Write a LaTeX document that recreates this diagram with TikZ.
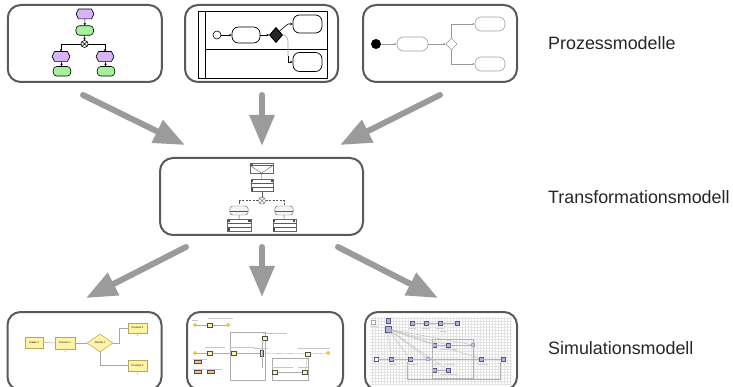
\documentclass[tikz,border=0pt]{standalone}
\usepackage{fontspec}
\setmainfont{Liberation Sans}
\usetikzlibrary{arrows.meta,shapes.geometric,shapes.misc,calc}
\definecolor{framegray}{HTML}{5A5A5A}
\definecolor{arrowgray}{HTML}{9B9B9B}
\definecolor{evpurple}{HTML}{D6B4F6}
\definecolor{fngreen}{HTML}{A6F09C}
\definecolor{arenay}{HTML}{FFF3A6}
\definecolor{arenab}{HTML}{B9A65A}
\definecolor{simblue}{HTML}{8E92D6}
\begin{document}
\begin{tikzpicture}[x=1pt,y=-1pt,
  frame/.style={draw=framegray, line width=2pt, rounded corners=13pt, minimum width=154pt, minimum height=77pt, inner sep=0pt},
  bigarrow/.style={draw=arrowgray, line width=6pt, line cap=round, -{Triangle[length=31pt,width=24pt]}},
  lbl/.style={anchor=west, inner sep=0pt, font=\fontsize{17.9}{20}\selectfont, text=black!85},
  ev/.style={minimum width=17.5pt, minimum height=9.5pt, inner sep=0pt},
  fn/.style={draw=black, line width=0.6pt, fill=fngreen, rounded corners=3.5pt, minimum width=17.5pt, minimum height=9.5pt, inner sep=0pt},
  epc/.style={line width=0.6pt, -{Stealth[length=2.5pt,width=2.5pt]}},
  task/.style={draw=black, line width=0.7pt, rounded corners=6.5pt, fill=white, inner sep=0pt},
  bpmn/.style={line width=0.6pt, -{Stealth[length=2.5pt,width=2.5pt]}},
  act/.style={draw=gray!75, line width=0.6pt, rounded corners=6.5pt, fill=white, inner sep=0pt},
  uml/.style={draw=gray!80, line width=0.6pt, -{Stealth[length=2.5pt,width=2.2pt]}},
  tbox/.style={draw=gray!80!black, line width=0.4pt, fill=gray!8, inner sep=0pt},
  tline/.style={draw=gray!70!black, line width=0.4pt},
  ar/.style={draw=arenab, line width=0.5pt, fill=arenay, inner sep=0pt},
  arl/.style={draw=gray!70, line width=0.5pt},
  tiny/.style={font=\fontsize{2.6}{3}\selectfont, inner sep=0pt},
  sm/.style={draw=gray!60!black, line width=0.3pt, fill=arenay, minimum width=5pt, minimum height=4pt, inner sep=0pt},
  ydot/.style={circle, draw=arenab, line width=0.3pt, fill=yellow!70!orange, minimum size=3.5pt, inner sep=0pt},
  sml/.style={draw=gray!65, line width=0.35pt},
  txb/.style={draw=gray!45, line width=0.7pt},
  bq/.style={draw=simblue!60!black, line width=0.3pt, fill=simblue!70!white, minimum width=4.5pt, minimum height=4.5pt, inner sep=0pt},
  bc/.style={circle, draw=simblue!60!black, line width=0.3pt, fill=simblue!40!white, minimum size=4pt, inner sep=0pt},
  bl/.style={draw=gray!60, line width=0.3pt}
]
\useasboundingbox (0,0) rectangle (733,387);
\fill[white] (0,0) rectangle (733,387);

% ---------- frames ----------
\node[frame] (p1) at (84.75,43.5) {};
\node[frame, minimum width=153pt] (p2) at (261.5,43.5) {};
\node[frame] (p3) at (440,43.5) {};
\node[frame, minimum width=203pt] (tm) at (261.5,196.5) {};
\node[frame, minimum height=78pt] (s1) at (84.5,351) {};
\node[frame, minimum width=156pt, minimum height=78pt] (s2) at (265,351) {};
\node[frame, minimum width=152pt, minimum height=78pt] (s3) at (441,351) {};

% ---------- big arrows ----------
\coordinate (a1s) at (83,95);   \coordinate (a1e) at (185,145);
\coordinate (a2s) at (262,95);  \coordinate (a2e) at (262,146);
\coordinate (a3s) at (440,95);  \coordinate (a3e) at (340,145);
\coordinate (b1s) at (186,247); \coordinate (b1e) at (86,298);
\coordinate (b2s) at (262,247); \coordinate (b2e) at (262,297);
\coordinate (b3s) at (338,247); \coordinate (b3e) at (438,298);
\foreach \s/\e in {a1s/a1e,a2s/a2e,a3s/a3e,b1s/b1e,b2s/b2e,b3s/b3e}
  \draw[bigarrow] (\s) -- (\e);

% ---------- labels ----------
\node[lbl] (l1) at (548,43) {Prozessmodelle};
\node[lbl] (l2) at (548,197) {Transformationsmodell};
\node[lbl] (l3) at (548,348) {Simulationsmodell};

% ---------- EPC (box 1) ----------
\node[ev] (e1) at (85,14) {};
\node[fn] (f1) at (84.7,30.5) {};
\node[circle, draw=black, line width=0.6pt, fill=white, minimum size=7pt, inner sep=0pt] (x1) at (84.5,44) {};
\draw[line width=0.5pt] (x1.north west) -- (x1.south east) (x1.north east) -- (x1.south west);
\node[ev] (e2) at (61,56.5) {};
\node[fn] (f2) at (62,71.3) {};
\node[ev] (e3) at (105,56.5) {};
\node[fn] (f3) at (106,71.3) {};
\foreach \n in {e1,e2,e3}
  \filldraw[fill=evpurple, draw=black, line width=0.6pt, line join=round]
    (\n.west) -- ($(\n.north west)+(2.5,0)$) -- ($(\n.north east)+(-2.5,0)$) -- (\n.east)
    -- ($(\n.south east)+(-2.5,0)$) -- ($(\n.south west)+(2.5,0)$) -- cycle;
\coordinate (xl) at (61,44); \coordinate (xr) at (105,44);
\draw[epc] (e1) -- (f1);
\draw[epc] (f1) -- (x1);
\draw[line width=0.6pt] (xl) -- (x1.west) (x1.east) -- (xr);
\draw[epc] (xl) -- (e2);
\draw[epc] (xr) -- (e3);
\draw[epc] (e2) -- (f2);
\draw[epc] (e3) -- (f3);

% ---------- BPMN (box 2) ----------
\node[draw=black, line width=0.8pt, minimum width=129pt, minimum height=67pt, inner sep=0pt] (pool) at (262.5,44.5) {};
\draw[line width=0.8pt] ($(pool.north west)+(8,0)$) coordinate (ps1) -- ($(pool.south west)+(8,0)$) coordinate (ps2);
\draw[line width=0.8pt] (206,49) coordinate (ln1) -- (pool.east |- ln1);
\node[circle, draw=black, line width=0.6pt, fill=white, minimum size=8pt, inner sep=0pt] (st) at (217,35) {};
\node[task, minimum width=28pt, minimum height=16pt] (ta) at (246,35) {};
\node[diamond, draw=black, line width=1pt, fill=black!85, minimum width=13pt, minimum height=15pt, inner sep=0pt] (gw) at (276,35) {};
\node[task, minimum width=29pt, minimum height=18pt] (tb) at (307.5,24) {};
\node[task, minimum width=29pt, minimum height=19pt] (tc) at (307.5,62) {};
\draw[bpmn] (st) -- (ta);
\draw[bpmn] (ta) -- (gw);
\draw[bpmn] (gw.north east) -- (288,24) -- (tb.west);
\draw[line width=0.6pt, draw=gray!70] (gw.east) to[out=0,in=90] (288,42) -- (288,56);
\draw[bpmn] (288,56) |- (tc.west);

% ---------- UML activity (box 3) ----------
\node[circle, fill=black, minimum size=10pt, inner sep=0pt] (in) at (376,44) {};
\node[act, minimum width=31pt, minimum height=14pt] (ua) at (412.5,44) {};
\node[diamond, draw=gray!75, line width=0.6pt, fill=white, minimum width=11pt, minimum height=12pt, inner sep=0pt] (dm) at (451.5,44) {};
\node[act, minimum width=30pt, minimum height=14pt] (ub) at (490,24) {};
\node[act, minimum width=30pt, minimum height=14pt] (uc) at (490,64) {};
\draw[uml] (in) -- (ua);
\draw[uml] (ua) -- (dm);
\draw[uml] (dm.north) |- (ub.west);
\draw[uml] (dm.south) |- (uc.west);

% ---------- transformation model ----------
\node[tbox, fill=white, minimum width=23pt, minimum height=10pt] (t1) at (261.5,168) {};
\draw[tline] ($(t1.north west)+(0,2.5)$) -- ($(t1.north east)+(0,2.5)$);
\draw[tline] ($(t1.north west)+(0,2.5)$) -- (t1.south) -- ($(t1.north east)+(0,2.5)$);
\fill[gray!70!black] ($(t1.north west)+(1,0.6)$) rectangle ++(2.5,1.3);
\node[tbox, fill=white, minimum width=22.6pt, minimum height=12.4pt] (t2) at (262,185.5) {};
\node[circle, draw=gray!70!black, line width=0.4pt, fill=white, minimum size=7pt, inner sep=0pt] (cx) at (262,200.7) {};
\draw[tline] (cx.north west) -- (cx.south east) (cx.north east) -- (cx.south west);
\node[tbox, rounded corners=3pt, minimum width=18.3pt, minimum height=9pt] (t3) at (239,210.5) {};
\node[tbox, fill=white, minimum width=23.3pt, minimum height=12.4pt] (t4) at (239.3,225.5) {};
\node[tbox, rounded corners=3pt, minimum width=18.3pt, minimum height=9pt] (t5) at (284,210.5) {};
\node[tbox, fill=white, minimum width=23pt, minimum height=12.4pt] (t6) at (284.2,225.5) {};
\foreach \n in {t2,t4,t6}{
  \draw[tline] ($(\n.north west)!0.33!(\n.south west)$) -- ($(\n.north east)!0.33!(\n.south east)$);
  \draw[tline] ($(\n.north west)!0.66!(\n.south west)$) -- ($(\n.north east)!0.66!(\n.south east)$);
  \fill[gray!60!black] ($(\n.north west)+(0.6,0.8)$) rectangle ++(2.2,2.2);
  \fill[gray!60!black] ($(\n.north west)!0.66!(\n.south west)+(0.6,0.8)$) rectangle ++(2.2,2.2);
  \fill[gray!60!black] ($(\n.north east)+(-2.8,0.8)$) rectangle ++(2.2,2.2);
}
\foreach \n in {t3,t5}{
  \draw[tline] ($(\n.west)+(0,1)$) -- ($(\n.east)+(0,1)$);
}
\draw[tline] (t1) -- (t2);
\draw[tline] (t2) -- (cx);
\draw[tline, dashed, dash pattern=on 2pt off 1.5pt] (cx.west) -| (t3.north);
\draw[tline, dashed, dash pattern=on 2pt off 1.5pt] (cx.east) -| (t5.north);
\draw[tline] (t3) -- (t4);
\draw[tline] (t5) -- (t6);

% ---------- Arena model (sim box 1) ----------
\node[ar, minimum width=18pt, minimum height=11pt] (cr) at (34,342.5) {};
\node[tiny] at (cr) {Create 1};
\node[ar, minimum width=20pt, minimum height=12pt] (pa) at (65,343) {};
\node[tiny] at (pa) {Process 1};
\node[diamond, ar, minimum width=26pt, minimum height=18pt] (dc) at (100,343) {};
\node[tiny] at (dc) {Decide 1};
\node[ar, minimum width=19pt, minimum height=10pt] (pb) at (137.5,328) {};
\node[tiny] at (pb) {Process 2};
\node[ar, minimum width=19pt, minimum height=11pt] (pc) at (137.5,365.5) {};
\node[tiny] at (pc) {Process 3};
\draw[arl] (cr) -- (pa);
\draw[arl] (pa) -- (dc);
\draw[arl] (dc.east) -- ++(6,0) |- (pb.west);
\draw[arl] (dc.south) |- (pc.west);
\fill[red!70] ($(pa.south)+(0,2)$) circle (0.5);
\fill[red!70] ($(pb.south)+(0,2)$) circle (0.5);
\fill[red!70] ($(pc.south)+(0,2)$) circle (0.5);

% ---------- sim box 2 ----------
\draw[sml] (230,332) rectangle (265,380);
\draw[sml] (272,358) rectangle (308,380);
\node[ydot] (m1) at (195,325) {};
\node[sm] (m2) at (210,325) {};
\node[ydot] (m3) at (228,325) {};
\draw[sml] (m1) -- (m2); \draw[sml] (m2) -- (m3);
\draw[txb] (208,318) -- (233,318);
\draw[txb] (192,320.5) -- (198,320.5);
\node[ydot] (n1) at (195,353) {};
\node[sm] (n2) at (210,353) {};
\node[sm] (n3) at (234,353) {};
\node[sm, minimum width=3pt, minimum height=6pt] (n4) at (262,353) {};
\node[sm] (n5) at (308,354) {};
\node[ydot] (n6) at (328,353) {};
\draw[sml] (n1) -- (n2); \draw[sml] (n2) -- (n3); \draw[sml] (n3) -- (n4);
\draw[sml] (n4) -- (n5); \draw[sml] (n5) -- (n6);
\draw[txb] (205,347.5) -- (225,347.5);
\draw[txb] (230,347.5) -- (255,347.5);
\draw[txb] (254,348.5) -- (268,348.5);
\draw[txb] (298,348.5) -- (330,348.5);
\node[sm] (k1) at (265,338) {};
\draw[txb] (263,333) -- (287,333);
\draw[sml] (262,340) -- (262,368);
\node[sm] (k2) at (275,372) {};
\node[sm] (k3) at (305,372) {};
\draw[sml] (k2) -- (k3);
\draw[sml] (k3) -- (n5);
\draw[txb] (272,367.5) -- (293,367.5);
\draw[txb] (298,367.5) -- (308,367.5);
\node[sm, minimum width=7pt, minimum height=3pt, fill=orange!50] (y1) at (198,362) {};
\node[sm, minimum width=7pt, minimum height=3pt, fill=orange!50] (y2) at (198,372) {};
\node[sm, minimum width=7pt, minimum height=3pt, fill=orange!50] (y3) at (211,372) {};
\draw[txb] (193,359) -- (207,359);
\draw[txb] (193,369) -- (205,369);
\draw[txb] (206,369) -- (222,369);

% ---------- sim box 3 ----------
\begin{scope}
\clip (370,317) rectangle (512,384);
\draw[gray!22, line width=0.12pt, step=3pt] (370,317) grid (512,384);
\end{scope}
\node[draw=gray!70, line width=0.3pt, fill=white, minimum size=4.5pt, inner sep=0pt] (q0) at (373,322) {};
\node[bq] (q1) at (388,320.5) {};
\node[bq, minimum width=5.5pt, minimum height=5.5pt] (q2) at (388,329) {};
\node[bq] (r1) at (412,323) {};
\node[bq] (r2) at (426,323) {};
\node[bq] (r3) at (440,323) {};
\node[bq] (r4) at (457,323) {};
\draw[bl] (r1) -- (r2); \draw[bl] (r2) -- (r3); \draw[bl] (r3) -- (r4);
\node[bq] (u1) at (434,345) {};
\node[bq] (u2) at (448,345) {};
\node[bc] (u3) at (473,345) {};
\draw[bl] (u1) -- (u2); \draw[bl] (u2) -- (u3);
\node[bq, fill=white] (v1) at (376,359) {};
\node[bq] (v2) at (391,359) {};
\node[bq] (v3) at (410,359) {};
\node[bc] (v4) at (428,359) {};
\node[bq] (v5) at (481,359) {};
\node[bq] (v6) at (503,359) {};
\draw[bl] (v1) -- (v2); \draw[bl] (v2) -- (v3); \draw[bl] (v3) -- (v4);
\draw[bl] (v4) -- (v5); \draw[bl] (v5) -- (v6);
\node[bq] (w1) at (434,370) {};
\node[bq] (w2) at (448,370) {};
\draw[bl] (w1) -- (w2);
\foreach \t in {u1,u2,u3,v3,v4,v5,v2,w2}
  \draw[bl] (q2) -- (\t);
\draw[bl] (432,339) rectangle (473,378);
\draw[bl] (407,362) -- (407,379) -- (500,379) -- (500,362);
\draw[bl] (u3) -- (473,339);
\draw[txb, draw=gray!35] (370,326) -- (378,326);
\draw[txb, draw=gray!35] (384,333) -- (394,333);
\foreach \x in {412,426,440}
  \draw[txb, draw=gray!35] (\x-4,328) -- (\x+4,328);
\draw[txb, draw=gray!35] (440,331) -- (446,331);
\foreach \x/\w in {434/8,448/10,391/6,410/10,481/10}
  \draw[txb, draw=gray!35] (\x-\w/2+2,364) -- (\x+\w/2+2,364);
\draw[txb, draw=gray!35] (440,349) -- (458,349);
\draw[txb, draw=gray!35] (440,374) -- (458,374);
\end{tikzpicture}
\end{document}
